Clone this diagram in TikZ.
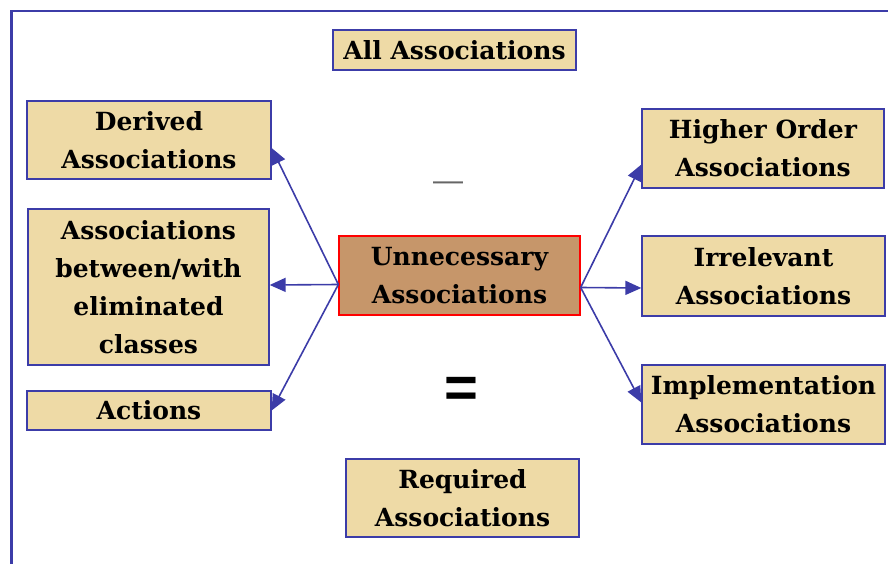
\documentclass[tikz,border=0pt]{standalone}
\usepackage{fontspec}
\setmainfont{DejaVu Serif}
\newfontfamily\signfont{Liberation Sans}
\usetikzlibrary{arrows.meta}

\definecolor{frameblue}{HTML}{3C3CA8}
\definecolor{parchment}{HTML}{EEDAA6}
\definecolor{cork}{HTML}{C6966A}

\begin{document}
\begin{tikzpicture}[x=1pt,y=-1pt,-{Triangle[length=16pt,width=14pt]},draw=frameblue,line width=1.6pt]
    \tikzstyle{assoc}=[rectangle,draw=frameblue,line width=1.3pt,fill=parchment,
        font=\fontsize{25}{38}\selectfont\bfseries,align=center,inner sep=0pt]
    \tikzstyle{hub}=[assoc,draw=red,fill=cork]

    \useasboundingbox (0,0) rectangle (888,564);

    % Draw the frame
    \draw[-,line width=2.2pt] (11.5,564) -- (11.5,11) -- (888,11);

    % Draw the top and bottom boxes
    \node[assoc,minimum width=243pt,minimum height=40pt] (all) at (454.5,50) {All Associations};
    \node[assoc,minimum width=233pt,minimum height=78pt] (req) at (462.5,498) {Required\\Associations};

    % Draw the left boxes
    \node[assoc,minimum width=244pt,minimum height=78pt] (derived) at (149,140) {Derived\\Associations};
    \node[assoc,minimum width=241pt,minimum height=156pt] (elim) at (148.5,287) {Associations\\between/with\\eliminated\\classes};
    \node[assoc,minimum width=244pt,minimum height=39pt] (actions) at (149,410.5) {Actions};

    % Draw the centre box
    \node[hub,minimum width=241pt,minimum height=79pt] (unnec) at (459.5,275.5) {Unnecessary\\Associations};

    % Draw the right boxes
    \node[assoc,minimum width=242pt,minimum height=79pt] (higher) at (763,148.5) {Higher Order\\Associations};
    \node[assoc,minimum width=243pt,minimum height=80pt] (irrel) at (763.5,276) {Irrelevant\\Associations};
    \node[assoc,minimum width=243pt,minimum height=79pt] (impl) at (763.5,404.5) {Implementation\\Associations};

    % Minus and equals signs
    \node[text=black!60,font=\signfont\fontsize{30}{30}\selectfont] (minus) at (448,186) {—};
    \node[font=\signfont\bfseries\fontsize{58}{58}\selectfont] (equals) at (461.5,392) {=};

    % Connect the centre box with every left box
    \foreach \dest/\dy in {derived/-8,elim/2,actions/0}
        \path ([yshift=-9pt]unnec.west) edge ([yshift=\dy pt]\dest.east);

    % Connect the centre box with every right box
    \foreach \dest/\dy in {higher/-16,irrel/-12,impl/2}
        \path ([yshift=-12pt]unnec.east) edge ([yshift=\dy pt]\dest.west);
\end{tikzpicture}
\end{document}
